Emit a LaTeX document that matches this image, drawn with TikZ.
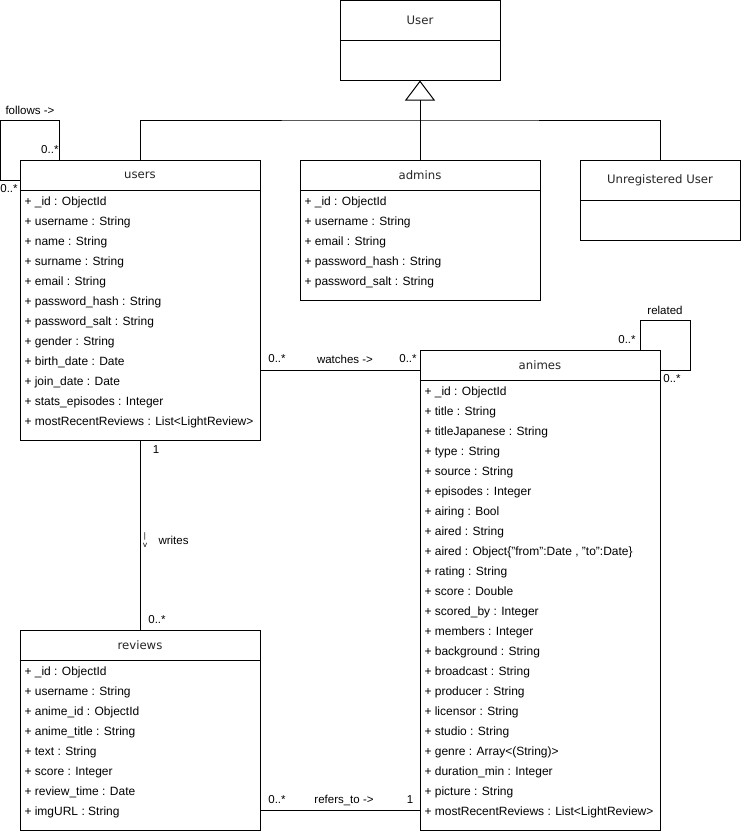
\documentclass[tikz,border=0pt]{standalone}
\usepackage{fontspec}
\setmainfont{Liberation Sans}
\newfontfamily\hdfont{DejaVu Sans}
\usetikzlibrary{arrows.meta}
\begin{document}
\begin{tikzpicture}[x=1pt,y=-1pt,
  line width=1pt,
  cls/.style={draw, rectangle, inner sep=0pt, fill=white},
  hd/.style={font=\hdfont\fontsize{11.7}{14}\selectfont, text=black!85, inner sep=0pt},
  attr/.style={font=\fontsize{12}{14}\selectfont, anchor=base west, inner sep=0pt},
  lbl/.style={font=\fontsize{11.5}{13}\selectfont, inner sep=0pt},
  gen/.style={-{Triangle[open,length=20pt,width=30pt,line width=1pt]}, fill=white}
]
\useasboundingbox (0,0) rectangle (741,831);

% connectors first (under boxes)
\coordinate (hub) at (420,120);

% ---- classes ----
\node[cls, minimum width=160pt, minimum height=80pt] (User) at (420,40) {};
\node[hd] (Usert) at (420,20) {User};
\draw (User.west |- 0,40) -- (User.east |- 0,40);

\node[cls, minimum width=240pt, minimum height=280pt] (users) at (140,300) {};
\node[hd] (userst) at (140,175) {users};
\draw (users.west |- 0,190) -- (users.east |- 0,190);
\foreach \t [count=\i from 0] in {+ \_id : ObjectId, + username : String, + name : String, + surname : String, + email : String, + password\_hash : String, + password\_salt : String, + gender : String, + birth\_date : Date, + join\_date : Date, + stats\_episodes : Integer, + mostRecentReviews : List<LightReview>}
  \node[attr] (ua\i) at (24,{205.5+20*\i}) {\t};

\node[cls, minimum width=240pt, minimum height=140pt] (admins) at (420,230) {};
\node[hd] (adminst) at (420,175) {admins};
\draw (admins.west |- 0,190) -- (admins.east |- 0,190);
\foreach \t [count=\i from 0] in {+ \_id : ObjectId, + username : String, + email : String, + password\_hash : String, + password\_salt : String}
  \node[attr] (aa\i) at (304,{205.5+20*\i}) {\t};

\node[cls, minimum width=160pt, minimum height=80pt] (unreg) at (660,200) {};
\node[hd] (unregt) at (660,180) {Unregistered User};
\draw (unreg.west |- 0,200) -- (unreg.east |- 0,200);

\node[cls, minimum width=240pt, minimum height=480pt] (animes) at (540,590) {};
\node[hd] (animest) at (540,365) {animes};
\draw (animes.west |- 0,380) -- (animes.east |- 0,380);
\foreach \t [count=\i from 0] in {+ \_id : ObjectId, + title : String, + titleJapanese : String, + type : String, + source : String, + episodes : Integer, + airing : Bool, + aired : String, {+ aired : Object\{"from":Date , "to":Date\}}, + rating : String, + score : Double, + scored\_by : Integer, + members : Integer, + background : String, + broadcast : String, + producer : String, + licensor : String, + studio : String, + genre : Array<(String)>, + duration\_min : Integer, + picture : String, + mostRecentReviews : List<LightReview>}
  \node[attr] (na\i) at (424,{395.5+20*\i}) {\t};

\node[cls, minimum width=240pt, minimum height=200pt] (reviews) at (140,730) {};
\node[hd] (reviewst) at (140,645) {reviews};
\draw (reviews.west |- 0,660) -- (reviews.east |- 0,660);
\foreach \t [count=\i from 0] in {+ \_id : ObjectId, + username : String, + anime\_id : ObjectId, + anime\_title : String, + text : String, + score : Integer, + review\_time : Date, + imgURL : String}
  \node[attr] (ra\i) at (24,{675.5+20*\i}) {\t};

% ---- generalization ----
\draw (users.north) |- (hub) -| (unreg.north);
\draw[gen] (admins.north) -- (User.south);

% ---- follows (self loop on users) ----
\draw ([xshift=40pt]users.north west) |- (0,120) |- (users.west |- 0,180);
\node[lbl, anchor=west] (follows) at (5,110) {follows ->};
\node[lbl, anchor=east] (fm1) at (59,150) {0..*};
\node[lbl] (fm2) at (9,189) {0..*};

% ---- related (self loop on animes) ----
\draw ([xshift=-20pt]animes.north east) |- (690,320) |- (animes.east |- 0,370);
\node[lbl] (related) at (665,310) {related};
\node[lbl] (rm1) at (627,340) {0..*};
\node[lbl] (rm2) at (672,379) {0..*};

% ---- watches ----
\draw (users.east |- 0,370) -- (animes.west |- 0,370);
\node[lbl] (wm1) at (277,359) {0..*};
\node[lbl] (watches) at (345,359) {watches ->};
\node[lbl] (wm2) at (408,359) {0..*};

% ---- writes ----
\draw (users.south) -- (reviews.north);
\node[lbl] (wr1) at (156,450) {1};
\node[lbl, anchor=west] (writes) at (158,540) {writes};
\node[font=\fontsize{8}{8.5}\selectfont, inner sep=0pt, align=center] (wrarr) at (145,540) {|\\v};
\node[lbl] (wr2) at (157,620) {0..*};

% ---- refers_to ----
\draw (reviews.east |- 0,810) -- (animes.west |- 0,810);
\node[lbl] (rf1) at (277,800) {0..*};
\node[lbl] (refers) at (344,800) {refers\_to ->};
\node[lbl] (rf2) at (410,800) {1};
\end{tikzpicture}
\end{document}
